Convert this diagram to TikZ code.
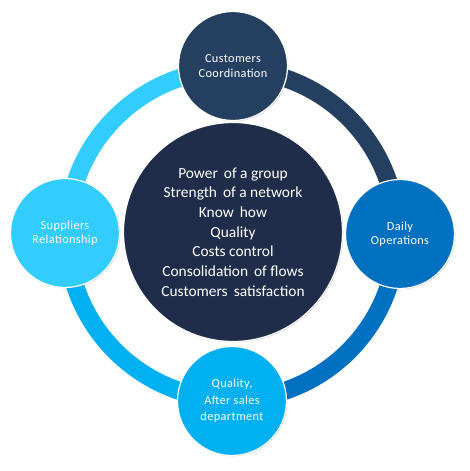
\documentclass[tikz,border=0pt]{standalone}
\usepackage{fontspec}
\setmainfont{Carlito}
\newfontfamily\smallfont[LetterSpace=3]{Carlito}
\usetikzlibrary{shadows}
\definecolor{navy}{HTML}{243F60}
\definecolor{deepnavy}{HTML}{1F2D4A}
\definecolor{midblue}{HTML}{0070C0}
\definecolor{skyblue}{HTML}{00B0F0}
\definecolor{cyanblue}{HTML}{33CCFF}
\tikzset{
  ringarc/.style={line width=18pt},
  bubble/.style={circle, minimum size=109pt, inner sep=0pt, draw=white, line width=1.2pt,
    text=white, align=center, font=\smallfont\fontsize{12.3pt}{14.5pt}\selectfont,
    drop shadow={shadow xshift=0.8pt, shadow yshift=-0.8pt, opacity=0.45, fill=gray}},
  hub/.style={circle, minimum size=219pt, inner sep=0pt, draw=white, line width=1.2pt,
    fill=deepnavy, text=white, align=center, font=\fontsize{15.4pt}{19.7pt}\selectfont,
    drop shadow={shadow xshift=0.8pt, shadow yshift=-0.8pt, opacity=0.45, fill=gray}}
}
\begin{document}
\begin{tikzpicture}[x=1pt,y=1pt]
\useasboundingbox (0,0) rectangle (470,471);
\coordinate (ring) at (232,236.5);
% ring arcs
\draw[ringarc, navy]     ([shift={(90:165)}]ring) arc[start angle=90, end angle=0, radius=165];
\draw[ringarc, midblue]  ([shift={(0:165)}]ring) arc[start angle=0, end angle=-90, radius=165];
\draw[ringarc, skyblue]  ([shift={(-90:165)}]ring) arc[start angle=-90, end angle=-180, radius=165];
\draw[ringarc, cyanblue] ([shift={(180:165)}]ring) arc[start angle=180, end angle=90, radius=165];
% nodes
\node[hub] (center) at (233,239) {Power\, of a group\\Strength\, of a network\\Know\, how\\Quality\\Costs control\\Consolidation\, of flows\\Customers\, satisfaction};
\node[bubble, fill=navy] (top) at (233,405) {Customers\\Coordination};
\node[bubble, fill=midblue] (right) at (400,237) {Daily\\Operations};
\node[bubble, fill=skyblue, font=\smallfont\fontsize{12.3pt}{16.3pt}\selectfont] (bottom) at (232,70) {Quality,\\After sales\\department};
\node[bubble, fill=cyanblue] (left) at (65,238) {Suppliers\\Relationship};
\end{tikzpicture}
\end{document}
